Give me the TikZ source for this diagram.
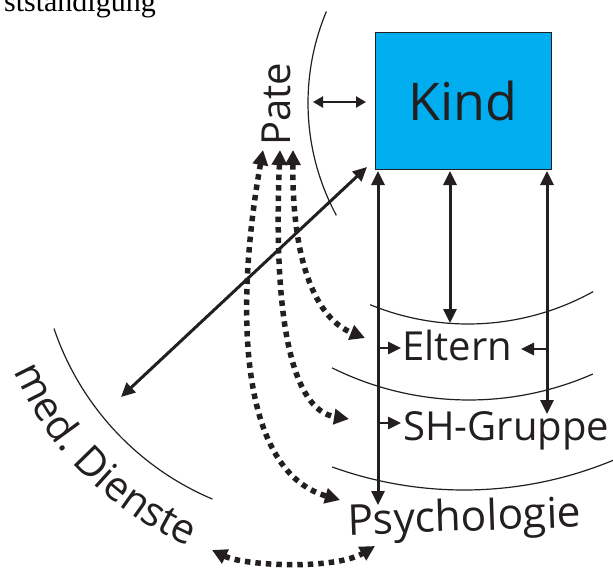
\documentclass[tikz,border=0pt]{standalone}
\usepackage{fontspec}
\setmainfont{Open Sans}
\newfontfamily\serifface{Liberation Serif}
\usetikzlibrary{arrows.meta,decorations.text}
\definecolor{ink}{HTML}{231F20}
\definecolor{kindblue}{HTML}{00AEEF}
\begin{document}
\begin{tikzpicture}[x=1pt,y=-1pt,
  thinarc/.style={draw=ink, line width=1.2pt},
  solidarrow/.style={draw=ink, line width=3pt, {Triangle[length=14pt,width=13pt]}-{Triangle[length=14pt,width=13pt]}},
  smallboth/.style={draw=ink, line width=2.2pt, {Triangle[length=10pt,width=11pt]}-{Triangle[length=10pt,width=11pt]}},
  pointer/.style={draw=ink, line width=2.6pt, -{Triangle[length=13pt,width=12pt]}},
  dotboth/.style={draw=ink, line width=5.5pt, dash pattern=on 5.5pt off 5pt, {Triangle[length=15pt,width=15pt]}-{Triangle[length=15pt,width=15pt]}},
  lab/.style={text=ink, inner sep=0pt, font=\fontsize{40}{48}\selectfont},
  kindbox/.style={draw=ink, line width=1pt, fill=kindblue, minimum width=176pt, minimum height=137pt, inner sep=0pt, text=ink, font=\fontsize{52}{60}\selectfont}
]
\useasboundingbox (0,0) rectangle (613,568);
\clip (0,0) rectangle (613,568);

% heading fragment
\node[anchor=base east, inner sep=0pt, text=black, font=\serifface\fontsize{30}{34}\selectfont] (title) at (156,11) {ststandigung};

% thin arcs
\draw[thinarc] ([shift={(202.7:237)}]545,103) arc[start angle=202.7, end angle=151.7, radius=237];
\draw[thinarc] ([shift={(112.3:258)}]468,66) arc[start angle=112.3, end angle=61.0, radius=258];
\draw[thinarc] ([shift={(116.4:308)}]469,92) arc[start angle=116.4, end angle=66.3, radius=308];
\draw[thinarc] ([shift={(109.8:389)}]464,101) arc[start angle=109.8, end angle=65, radius=389];
\draw[thinarc] ([shift={(161.3:284)}]323,237.5) arc[start angle=161.3, end angle=112.9, radius=284];

% Kind box
\node[kindbox] (kind) at (463,100.5) {Kind};

% labels
\node[lab, rotate=90, anchor=base] (pate) at (290,104) {Pate};
\node[lab, anchor=base west] (eltern) at (402,360) {Eltern};
\node[lab, anchor=base west] (shgruppe) at (403,440) {SH-Gruppe};
\node[lab, anchor=base west, rotate=2, font=\fontsize{42.5}{48}\selectfont] (psych) at (348,535) {Psychologie};
\path[decorate, decoration={text along path, text align=center,
  text={|\fontsize{41}{48}\selectfont\color{ink}|med. Dienste}}]
  ([shift={(160:337)}]323,237.5) arc[start angle=160, end angle=110, radius=337];

% coordinates for connector ends
\coordinate (pk1) at (313,102);
\coordinate (pk2) at (366,102);
\coordinate (md1) at (121,397);
\coordinate (kc) at (367,167);
\coordinate (v1a) at (378,171);
\coordinate (v1b) at (378,505);
\coordinate (v2a) at (450,171);
\coordinate (v2b) at (450,323);
\coordinate (v3a) at (547,171);
\coordinate (v3b) at (547,414);
\coordinate (s1a) at (378,348);
\coordinate (s1b) at (401,348);
\coordinate (s2a) at (378,423);
\coordinate (s2b) at (401,423);
\coordinate (s3a) at (547,349);
\coordinate (s3b) at (521,349);
\coordinate (pa1) at (263,150);
\coordinate (pa2) at (280,150);
\coordinate (pa3) at (293,150);
\coordinate (elt) at (365,338);
\coordinate (shg) at (349,419);
\coordinate (psd) at (340,500);
\coordinate (mdb) at (212,550);
\coordinate (psb) at (375,546);

% solid connectors
\draw[smallboth] (pk1) -- (pk2);
\draw[solidarrow] (md1) -- (kc);
\draw[solidarrow] (v1a) -- (v1b);
\draw[solidarrow] (v2a) -- (v2b);
\draw[solidarrow] (v3a) -- (v3b);
\draw[pointer] (s1a) -- (s1b);
\draw[pointer] (s2a) -- (s2b);
\draw[pointer] (s3a) -- (s3b);

% dotted connectors
\draw[dotboth] (pa3) .. controls (292,260) and (315,318) .. (elt);
\draw[dotboth] (pa2) .. controls (273,320) and (292,410) .. (shg);
\draw[dotboth] (pa1) .. controls (236,300) and (236,470) .. (psd);
\draw[dotboth] (mdb) .. controls (245,566) and (335,570) .. (psb);
\end{tikzpicture}
\end{document}
